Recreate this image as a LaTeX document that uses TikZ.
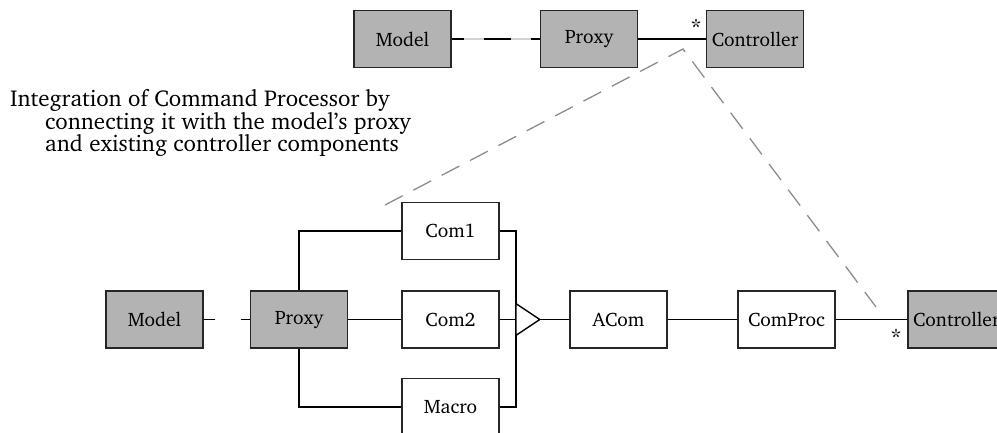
\documentclass[tikz,border=0pt]{standalone}
\usepackage[T1]{fontenc}
\usepackage{charter}
\usetikzlibrary{calc}
\definecolor{boxgray}{RGB}{179,179,179}
\definecolor{dashgray}{RGB}{140,140,140}
\definecolor{lightline}{RGB}{210,210,210}
\tikzset{
  comp/.style={draw=black!85, line width=1.6pt, minimum width=97pt, minimum height=57pt, inner sep=0pt, font=\fontsize{19.5}{19.5}\selectfont},
  shaded/.style={comp, fill=boxgray},
  plain/.style={comp, fill=white},
  wire/.style={draw=black, line width=1.4pt},
  hint/.style={draw=dashgray, line width=1.3pt, dash pattern=on 20pt off 12pt},
  mult/.style={font=\fontsize{23}{23}\selectfont, inner sep=0pt}
}
\begin{document}
\begin{tikzpicture}[x=1pt,y=-1pt]
\useasboundingbox (0,0) rectangle (997,432);
\clip (0,0) rectangle (997,432);
% top row
\node[shaded] (tm) at (402.5,39) {Model};
\node[shaded] (tp) at (589,39) {Proxy};
\node[shaded] (tc) at (755,39) {Controller};
\draw[line width=1.4pt, lightline] (tm.east) -- (tp.west);
\draw[wire, dash pattern=on 12pt off 20pt on 27pt off 20pt on 11pt] (tm.east) -- (tp.west);
\draw[wire] (tp.east) -- (tc.west);
\node[mult] (ta) at (696,27) {*};
% caption
\node[anchor=north west, align=left, inner sep=0pt, font=\fontsize{23}{19}\selectfont] (cap) at (10,89)
 {Integration of Command Processor by\\
  \hspace*{35pt}connecting it with the model's proxy\\
  \hspace*{35pt}and existing controller components};
% bottom row
\node[shaded] (bm) at (154.5,319.5) {Model};
\node[shaded] (bp) at (299,319.5) {Proxy};
\node[plain] (c1) at (450.5,231) {Com1};
\node[plain] (c2) at (450.5,319.5) {Com2};
\node[plain] (mac) at (450.5,407) {Macro};
\node[plain] (acom) at (618.5,319.5) {ACom};
\node[plain] (cp) at (786.5,319.5) {ComProc};
\node[shaded, anchor=west] (bc) at (907,319.5) {Controller};
\draw[wire, dash pattern=on 11pt off 26pt on 11pt] (bm.east) -- (bp.west);
\draw[wire] (bp.north) |- (c1.west);
\draw[wire] (bp) -- (c2);
\draw[wire] (bp.south) |- (mac.west);
\coordinate (busT) at ($(c1.east)+(16,0)$);
\coordinate (busB) at ($(mac.east)+(16,0)$);
\draw[wire] (c1.east) -- (busT) -- (busB) -- (mac.east);
\coordinate (tw) at ($(c2.east)+(16,0)$);
\coordinate (tip) at ($(tw)+(24,0)$);
\draw[wire] (c2.east) -- (tw);
\draw[wire, fill=white] ($(tw)+(0,-16)$) -- (tip) -- ($(tw)+(0,16)$) -- cycle;
\draw[wire] (tip) -- (acom);
\draw[wire] (acom) -- (cp);
\draw[wire] (cp) -- (bc);
\node[mult] (ba) at (896,337) {*};
% gray dashed hint
\coordinate (hl) at (385,205);
\coordinate (ha) at (683,49);
\coordinate (hr) at (876,307);
\draw[hint] (hl) -- (ha) -- (hr);
\end{tikzpicture}
\end{document}
